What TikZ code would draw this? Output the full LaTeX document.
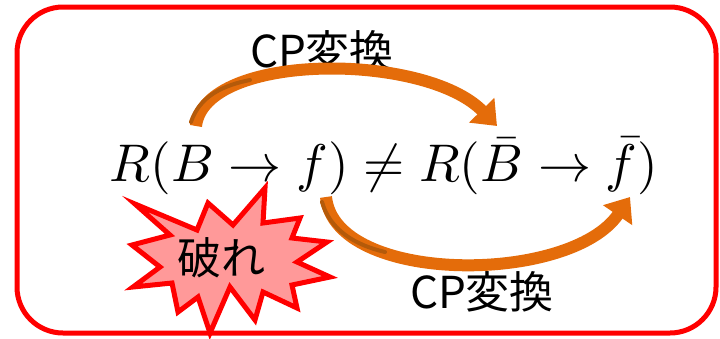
\documentclass[tikz,border=0pt]{standalone}
\usepackage{fontspec}
\newfontfamily\jp{Noto Sans CJK JP}
\usetikzlibrary{arrows.meta}
\definecolor{arrorange}{HTML}{E46C0A}
\definecolor{arrdark}{HTML}{B45A0A}
\definecolor{burstfill}{HTML}{FF9999}
\tikzset{
  frame/.style={draw=red, line width=5pt, rounded corners=46pt},
  cparrow/.style={draw=arrorange, line width=12pt, -{Triangle[length=22pt,width=34pt]}},
  lbl/.style={font=\jp\fontsize{44}{50}\selectfont, inner sep=0pt},
  burst/.style={draw=red, fill=burstfill, line width=5pt, line join=miter},
}
\begin{document}
\begin{tikzpicture}[x=1pt,y=-1pt]
\useasboundingbox (0,0) rectangle (720,338);
\draw[frame] (17,7) rectangle (716,333);
\node[inner sep=0pt, scale=5.3] (eq) at (384,166) {$R(B\to f)\neq R(\bar B\to\bar f)$};
\node[lbl] (top) at (322,51) {CP変換};
\node[lbl] (bot) at (482,292) {CP変換};
\coordinate (s1) at (196,126);
\coordinate (t1) at (497,126);
\coordinate (s2) at (326,197);
\coordinate (t2) at (630,197);
\draw[cparrow] (s1) .. controls (205,52) and (425,52) .. (t1);
\draw[draw=arrdark, line width=4pt, line cap=round] (191,122) .. controls (200,95) and (225,85) .. (250,80);
\draw[cparrow] (s2) .. controls (335,285) and (570,285) .. (t2);
\draw[draw=arrdark, line width=4pt, line cap=round] (322,202) .. controls (330,230) and (355,245) .. (385,252);
\draw[burst] (135,204) -- (197,230) -- (208,203) -- (233,225) -- (265,188) -- (263,223)
  -- (300,218) -- (292,238) -- (327,242) -- (297,262) -- (330,277) -- (292,285)
  -- (297,308) -- (263,292) -- (255,320) -- (230,287) -- (210,333) -- (198,297)
  -- (178,312) -- (172,283) -- (133,287) -- (160,267) -- (132,245) -- (170,235) -- cycle;
\node[lbl] (brk) at (221,258) {破れ};
\end{tikzpicture}
\end{document}
